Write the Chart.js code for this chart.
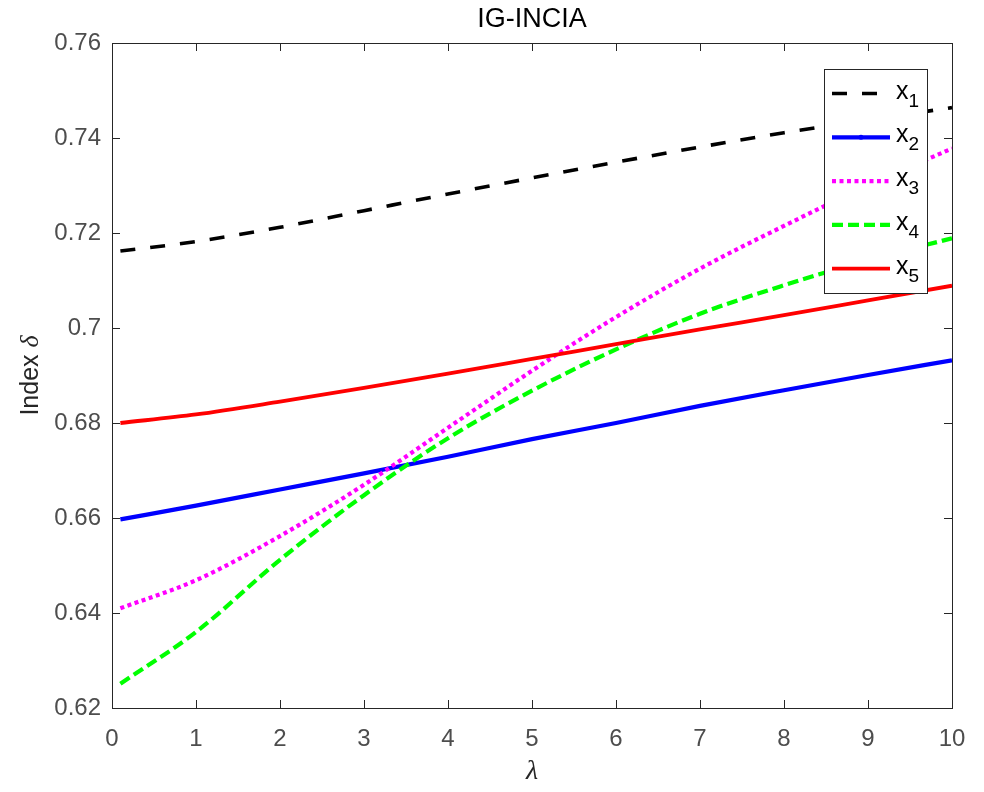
<!DOCTYPE html>
<html>
<head>
<meta charset="utf-8">
<script src="https://cdn.jsdelivr.net/npm/chart.js@4/dist/chart.umd.min.js"></script>
<style>
  html, body { margin: 0; padding: 0; background: #fff; }
  #wrap { width: 984px; height: 792px; }
</style>
</head>
<body>
<div id="wrap"><canvas id="chart" width="984" height="792"></canvas></div>
<script>
// chart values
const lambdaVals = [0.1, 1, 2, 3, 4, 5, 6, 7, 8, 9, 10];
const x1Vals = [0.7162, 0.7182, 0.7212, 0.7247, 0.7282, 0.7316, 0.7349, 0.7381, 0.7411, 0.7438, 0.7464];
const x2Vals = [0.6597, 0.6626, 0.6660, 0.6694, 0.6729, 0.6766, 0.6800, 0.6836, 0.6869, 0.6901, 0.6932];
const x3Vals = [0.6410, 0.6469, 0.6562, 0.6670, 0.6790, 0.6910, 0.7023, 0.7125, 0.7215, 0.7300, 0.7378];
const x4Vals = [0.6251, 0.6360, 0.6512, 0.6648, 0.6768, 0.6868, 0.6955, 0.7030, 0.7090, 0.7143, 0.7189];
const x5Vals = [0.6800, 0.6818, 0.6845, 0.6874, 0.6904, 0.6935, 0.6966, 0.6997, 0.7027, 0.7058, 0.7089];
const seriesLabels = ['1', '2', '3', '4', '5']; // subscripts of x
const xTickStep = 1;
const yTickStep = 0.02;

const INK = '#262626';
const TICK_INK = '#4d4d4d';
const SANS = '"Liberation Sans", Arial, Helvetica, sans-serif';
const SERIF = '"Liberation Serif", "DejaVu Serif", serif';

const styles = [
    { color: '#000000', width: 3.6, dash: [15, 15] },
    { color: '#0000ff', width: 4.2, dash: [] },
    { color: '#ff00ff', width: 4.2, dash: [4, 3.5] },
    { color: '#00ff00', width: 4.2, dash: [11, 5] },
    { color: '#ff0000', width: 3.8, dash: [] }
];

const allSeries = [x1Vals, x2Vals, x3Vals, x4Vals, x5Vals];

const datasets = allSeries.map((vals, i) => ({
    label: 'x' + seriesLabels[i],
    data: vals.map((v, k) => ({ x: lambdaVals[k], y: v })),
    borderColor: styles[i].color,
    borderWidth: styles[i].width,
    borderDash: styles[i].dash,
    borderCapStyle: 'butt',
    pointRadius: 0,
    fill: false,
    cubicInterpolationMode: 'monotone',
    order: allSeries.length - i
}));

// box, inward ticks, titles and the legend, drawn MATLAB-style
const matlabDecor = {
    id: 'matlabDecor',
    afterDraw(chart) {
        const { ctx, chartArea: a, scales } = chart;
        const tl = 8;
        ctx.save();
        ctx.strokeStyle = INK;
        ctx.lineWidth = 1;
        ctx.setLineDash([]);
        ctx.strokeRect(Math.round(a.left) + 0.5, Math.round(a.top) + 0.5,
            Math.round(a.right - a.left), Math.round(a.bottom - a.top));

        ctx.beginPath();
        scales.x.ticks.forEach(t => {
            const px = Math.round(scales.x.getPixelForValue(t.value)) + 0.5;
            ctx.moveTo(px, a.bottom); ctx.lineTo(px, a.bottom - tl);
            ctx.moveTo(px, a.top); ctx.lineTo(px, a.top + tl);
        });
        scales.y.ticks.forEach(t => {
            const py = Math.round(scales.y.getPixelForValue(t.value)) + 0.5;
            ctx.moveTo(a.left, py); ctx.lineTo(a.left + tl, py);
            ctx.moveTo(a.right, py); ctx.lineTo(a.right - tl, py);
        });
        ctx.stroke();

        // title
        ctx.fillStyle = '#000';
        ctx.textAlign = 'center';
        ctx.textBaseline = 'middle';
        ctx.font = '27px ' + SANS;
        ctx.fillText('IG-INCIA', (a.left + a.right) / 2, 20);

        // x axis title
        ctx.fillStyle = INK;
        ctx.font = 'italic 28px ' + SERIF;
        ctx.fillText('\u03bb', (a.left + a.right) / 2, 772);

        // y axis title: "Index δ"
        ctx.save();
        ctx.translate(31, (a.top + a.bottom) / 2);
        ctx.rotate(-Math.PI / 2);
        ctx.font = '25px ' + SANS;
        const w1 = ctx.measureText('Index ').width;
        ctx.font = 'italic 26px ' + SERIF;
        const w2 = ctx.measureText('\u03b4').width;
        const sx = -(w1 + w2) / 2;
        ctx.textAlign = 'left';
        ctx.font = '25px ' + SANS;
        ctx.fillText('Index ', sx, 0);
        ctx.font = 'italic 26px ' + SERIF;
        ctx.fillText('\u03b4', sx + w1, 0);
        ctx.restore();

        // legend
        const lx = a.right - 128, ly = a.top + 26, lw = 103, lh = 224;
        ctx.fillStyle = '#fff';
        ctx.fillRect(lx, ly, lw, lh);
        ctx.strokeStyle = INK;
        ctx.lineWidth = 1;
        ctx.strokeRect(Math.round(lx) + 0.5, Math.round(ly) + 0.5, lw, lh);
        chart.data.datasets.forEach((ds, i) => {
            const ry = ly + 24.5 + i * 43.8;
            ctx.beginPath();
            ctx.strokeStyle = ds.borderColor;
            ctx.lineWidth = ds.borderWidth;
            ctx.setLineDash(ds.borderDash);
            ctx.moveTo(lx + 8, ry);
            ctx.lineTo(lx + 66, ry);
            ctx.stroke();
            ctx.setLineDash([]);
            if (i === 1) {
                ctx.beginPath();
                ctx.fillStyle = ds.borderColor;
                ctx.arc(lx + 37, ry, 2.5, 0, Math.PI * 2);
                ctx.fill();
            }
            ctx.fillStyle = '#000';
            ctx.textAlign = 'left';
            ctx.textBaseline = 'alphabetic';
            ctx.font = '25px ' + SANS;
            ctx.fillText('x', lx + 72, ry + 5);
            const xw = ctx.measureText('x').width;
            ctx.font = '19px ' + SANS;
            ctx.fillText(seriesLabels[i], lx + 72 + xw, ry + 13);
        });
        ctx.restore();
    }
};

new Chart(document.getElementById('chart'), {
    type: 'line',
    data: { datasets: datasets },
    options: {
        responsive: false,
        animation: false,
        layout: { padding: { top: 43, right: 32, left: 0, bottom: 0 } },
        plugins: {
            legend: { display: false },
            tooltip: { enabled: false }
        },
        scales: {
            x: {
                type: 'linear',
                min: 0,
                max: 10,
                border: { display: false },
                grid: { display: false, drawTicks: false },
                ticks: {
                    stepSize: xTickStep,
                    color: TICK_INK,
                    font: { family: SANS, size: 24 },
                    padding: 17,
                    maxRotation: 0
                },
                afterFit(scale) { scale.height = 84; }
            },
            y: {
                type: 'linear',
                min: 0.62,
                max: 0.76,
                border: { display: false },
                grid: { display: false, drawTicks: false },
                ticks: {
                    stepSize: yTickStep,
                    color: TICK_INK,
                    font: { family: SANS, size: 24 },
                    padding: 11,
                    callback: (v) => String(Number(v.toFixed(2)))
                },
                afterFit(scale) { scale.width = 112; }
            }
        }
    },
    plugins: [matlabDecor]
});
</script>
</body>
</html>
